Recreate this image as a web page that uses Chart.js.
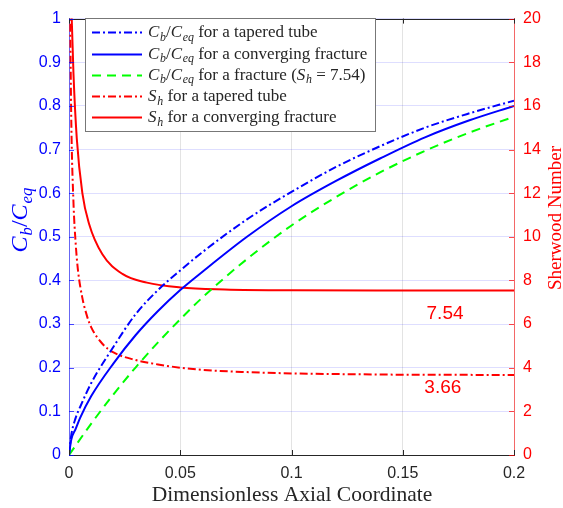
<!DOCTYPE html>
<html>
<head>
<meta charset="utf-8">
<title>Sherwood number along the axis</title>
<script src="https://cdn.jsdelivr.net/npm/chart.js@4.4.1/dist/chart.umd.min.js"></script>
<style>
  html, body { margin: 0; padding: 0; background: #fff; }
  #wrap { position: relative; width: 563px; height: 508px; }
</style>
</head>
<body>
<div id="wrap"><canvas id="sherwoodChart"></canvas></div>
<script>
// concentration curves (left axis)
const xConc = [0, 0.001, 0.003, 0.005, 0.01, 0.02, 0.03, 0.04, 0.05, 0.06, 0.08, 0.10, 0.12, 0.14, 0.16, 0.18, 0.20];
const cbTaper = [0, 0.045, 0.085, 0.11, 0.165, 0.248, 0.323, 0.378, 0.423, 0.465, 0.54, 0.603, 0.66, 0.708, 0.75, 0.783, 0.812];
const cbConverging = [0, 0.035, 0.06, 0.085, 0.135, 0.21, 0.275, 0.33, 0.378, 0.42, 0.50, 0.57, 0.628, 0.68, 0.728, 0.767, 0.80];

const xFracture = [0, 0.01, 0.02, 0.03, 0.04, 0.05, 0.06, 0.08, 0.10, 0.12, 0.14, 0.16, 0.18, 0.20];
const cbFracture = [0, 0.072, 0.139, 0.201, 0.258, 0.311, 0.361, 0.449, 0.526, 0.591, 0.648, 0.697, 0.739, 0.775];

// Sherwood numbers (right axis)
const xShTaper = [0.0005, 0.001, 0.002, 0.003, 0.004, 0.006, 0.008, 0.01, 0.015, 0.02, 0.03, 0.04, 0.05, 0.06, 0.08, 0.10, 0.12, 0.15, 0.20];
const shTaper = [20.5, 15.5, 11.6, 9.7, 8.5, 7.2, 6.4, 5.85, 5.1, 4.7, 4.35, 4.15, 4.0, 3.9, 3.8, 3.74, 3.71, 3.68, 3.67];
const xShConverging = [0.001, 0.002, 0.0035, 0.006, 0.009, 0.015, 0.024, 0.035, 0.05, 0.07, 0.10, 0.15, 0.20];
const shConverging = [20.8, 17.5, 14.5, 12.0, 10.6, 9.2, 8.3, 7.9, 7.68, 7.59, 7.55, 7.54, 7.54];

// limiting values written on the plot
const limitLabels = ['7.54', '3.66'];
const limitX = [0.169, 0.168];
const limitY = [6.45, 3.1];

const serif = '"Liberation Serif", "Times New Roman", serif';
const sans = '"Liberation Sans", Arial, sans-serif';

const cbRatio = [{t: 'C', it: true}, {t: 'b', it: true, sub: true}, {t: '/'}, {t: 'C', it: true}, {t: 'eq', it: true, sub: true}];
const shSym = [{t: 'S', it: true}, {t: 'h', it: true, sub: true}];
const legendText = [
    cbRatio.concat([{t: ' for a tapered tube'}]),
    cbRatio.concat([{t: ' for a converging fracture'}]),
    cbRatio.concat([{t: ' for a fracture ('}], shSym, [{t: ' = 7.54)'}]),
    shSym.concat([{t: ' for a tapered tube'}]),
    shSym.concat([{t: ' for a converging fracture'}])
];

const pts = (xs, ys) => xs.map((x, i) => ({x: x, y: ys[i]}));

function drawRich(ctx, parts, x, y, size, color) {
    let cx = x;
    ctx.fillStyle = color;
    ctx.textAlign = 'left';
    ctx.textBaseline = 'alphabetic';
    parts.forEach(p => {
        const fs = p.sub ? size * 0.7 : size;
        ctx.font = (p.it ? 'italic ' : '') + fs + 'px ' + serif;
        ctx.fillText(p.t, cx, p.sub ? y + size * 0.22 : y);
        cx += ctx.measureText(p.t).width + (p.it && !p.sub ? size * 0.04 : 0);
    });
    return cx - x;
}

function richWidth(ctx, parts, size) {
    let w = 0;
    parts.forEach(p => {
        const fs = p.sub ? size * 0.7 : size;
        ctx.font = (p.it ? 'italic ' : '') + fs + 'px ' + serif;
        w += ctx.measureText(p.t).width + (p.it && !p.sub ? size * 0.04 : 0);
    });
    return w;
}

const decor = {
    id: 'decor',
    afterDraw(chart) {
        const ctx = chart.ctx;
        const area = chart.chartArea;
        const sx = chart.scales.x, sy = chart.scales.y, sy2 = chart.scales.y2;
        ctx.save();

        // top box edge
        ctx.strokeStyle = '#262626';
        ctx.lineWidth = 1;
        ctx.beginPath();
        ctx.moveTo(area.left, Math.round(area.top) + 0.5);
        ctx.lineTo(area.right, Math.round(area.top) + 0.5);
        ctx.stroke();

        // inward tick marks
        const tl = 5;
        ctx.beginPath();
        sx.ticks.forEach(t => {
            const px = Math.round(sx.getPixelForValue(t.value)) + 0.5;
            ctx.moveTo(px, area.bottom); ctx.lineTo(px, area.bottom - tl);
            ctx.moveTo(px, area.top); ctx.lineTo(px, area.top + tl);
        });
        ctx.stroke();
        ctx.strokeStyle = 'rgba(0,0,255,0.7)';
        ctx.beginPath();
        sy.ticks.forEach(t => {
            const py = Math.round(sy.getPixelForValue(t.value)) + 0.5;
            ctx.moveTo(area.left, py); ctx.lineTo(area.left + tl, py);
        });
        ctx.stroke();
        ctx.strokeStyle = 'rgba(255,0,0,0.7)';
        ctx.beginPath();
        sy2.ticks.forEach(t => {
            const py = Math.round(sy2.getPixelForValue(t.value)) + 0.5;
            ctx.moveTo(area.right, py); ctx.lineTo(area.right - tl, py);
        });
        ctx.stroke();

        // limit values
        ctx.fillStyle = '#ff0000';
        ctx.font = '19px ' + sans;
        ctx.textAlign = 'center';
        ctx.textBaseline = 'middle';
        limitLabels.forEach((s, i) => {
            ctx.fillText(s, sx.getPixelForValue(limitX[i]), sy2.getPixelForValue(limitY[i]));
        });

        // axis titles
        ctx.fillStyle = '#262626';
        ctx.font = '21.5px ' + serif;
        ctx.textAlign = 'center';
        ctx.textBaseline = 'alphabetic';
        ctx.fillText('Dimensionless Axial Coordinate', 292, 501);

        ctx.save();
        ctx.translate(27, 220);
        ctx.rotate(-Math.PI / 2);
        const tw = richWidth(ctx, cbRatio, 24);
        drawRich(ctx, cbRatio, -tw / 2, 0, 24, '#0000ff');
        ctx.restore();

        ctx.save();
        ctx.translate(561, 218);
        ctx.rotate(-Math.PI / 2);
        ctx.fillStyle = '#ff0000';
        ctx.font = '19px ' + serif;
        ctx.textAlign = 'center';
        ctx.fillText('Sherwood Number', 0, 0);
        ctx.restore();

        // legend
        const bx = 85.5, by = 18.5, bw = 290, bh = 113;
        ctx.fillStyle = '#ffffff';
        ctx.fillRect(bx, by, bw, bh);
        ctx.strokeStyle = '#777777';
        ctx.lineWidth = 1;
        ctx.strokeRect(bx, by, bw, bh);
        chart.data.datasets.forEach((ds, i) => {
            const base = 37.3 + i * 21.2;
            const ly = Math.round(base - 5) + 0.5;
            ctx.save();
            ctx.strokeStyle = ds.borderColor;
            ctx.lineWidth = ds.borderWidth;
            ctx.setLineDash(ds.borderDash || []);
            ctx.beginPath();
            ctx.moveTo(92, ly);
            ctx.lineTo(142, ly);
            ctx.stroke();
            ctx.restore();
            drawRich(ctx, legendText[i], 148, base, 17, '#262626');
        });

        ctx.restore();
    }
};

const dashDot = [8, 3, 2, 3];
const dashed = [9, 6];

new Chart(document.getElementById('sherwoodChart').getContext('2d'), {
    type: 'line',
    data: {
        datasets: [{
            label: 'Cb/Ceq for a tapered tube',
            data: pts(xConc, cbTaper),
            borderColor: '#0000ff',
            borderWidth: 2,
            borderDash: dashDot,
            yAxisID: 'y'
        }, {
            label: 'Cb/Ceq for a converging fracture',
            data: pts(xConc, cbConverging),
            borderColor: '#0000ff',
            borderWidth: 2,
            yAxisID: 'y'
        }, {
            label: 'Cb/Ceq for a fracture (Sh = 7.54)',
            data: pts(xFracture, cbFracture),
            borderColor: '#00ff00',
            borderWidth: 2,
            borderDash: dashed,
            yAxisID: 'y'
        }, {
            label: 'Sh for a tapered tube',
            data: pts(xShTaper, shTaper),
            borderColor: '#ff0000',
            borderWidth: 2,
            borderDash: dashDot,
            yAxisID: 'y2'
        }, {
            label: 'Sh for a converging fracture',
            data: pts(xShConverging, shConverging),
            borderColor: '#ff0000',
            borderWidth: 2,
            yAxisID: 'y2'
        }]
    },
    options: {
        responsive: true,
        maintainAspectRatio: false,
        animation: false,
        layout: { padding: { top: 10, left: 0, right: 0, bottom: 0 } },
        elements: {
            point: { radius: 0 },
            line: { cubicInterpolationMode: 'monotone', fill: false }
        },
        plugins: {
            legend: { display: false },
            tooltip: { enabled: false }
        },
        scales: {
            x: {
                type: 'linear',
                min: 0,
                max: 0.2,
                afterFit: s => { s.height = 53; },
                ticks: {
                    stepSize: 0.05,
                    padding: 9,
                    color: '#262626',
                    font: { family: sans, size: 16 },
                    maxRotation: 0,
                    callback: v => String(+v.toFixed(2))
                },
                grid: { color: 'rgba(38,38,38,0.13)', drawTicks: false },
                border: { color: '#262626' }
            },
            y: {
                position: 'left',
                min: 0,
                max: 1,
                afterFit: s => { s.width = 69; },
                ticks: {
                    stepSize: 0.1,
                    padding: 8,
                    color: '#0000ff',
                    font: { family: sans, size: 16 },
                    callback: v => String(+v.toFixed(1))
                },
                grid: { color: 'rgba(0,0,255,0.13)', drawTicks: false },
                border: { color: 'rgba(0,0,255,0.55)' }
            },
            y2: {
                position: 'right',
                min: 0,
                max: 20,
                afterFit: s => { s.width = 49; },
                ticks: {
                    stepSize: 2,
                    padding: 9,
                    color: '#ff0000',
                    font: { family: sans, size: 16 }
                },
                grid: { drawOnChartArea: false, drawTicks: false },
                border: { color: 'rgba(255,0,0,0.55)' }
            }
        }
    },
    plugins: [decor]
});
</script>
</body>
</html>
